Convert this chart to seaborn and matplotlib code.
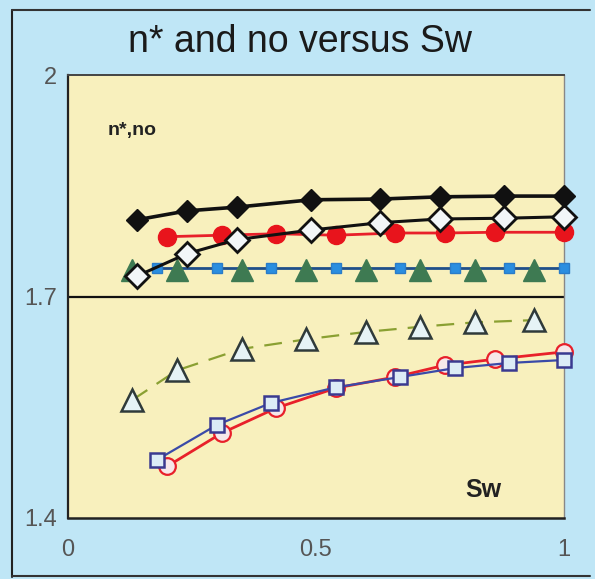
import matplotlib
matplotlib.use("Agg")
import matplotlib.pyplot as plt
from matplotlib.lines import Line2D
import seaborn as sns

# ---- data ----
sw_black = [0.14, 0.24, 0.34, 0.49, 0.63, 0.75, 0.88, 1.0]
n_black = [1.804, 1.816, 1.821, 1.831, 1.832, 1.835, 1.836, 1.836]
no_black = [1.728, 1.758, 1.777, 1.790, 1.800, 1.805, 1.806, 1.808]

sw_red = [0.20, 0.31, 0.42, 0.54, 0.66, 0.76, 0.86, 1.0]
n_red = [1.781, 1.783, 1.785, 1.783, 1.786, 1.786, 1.787, 1.787]
no_red = [1.470, 1.515, 1.549, 1.576, 1.591, 1.607, 1.615, 1.625]

sw_blue = [0.18, 0.30, 0.41, 0.54, 0.67, 0.78, 0.89, 1.0]
n_blue = [1.739, 1.739, 1.739, 1.739, 1.739, 1.739, 1.739, 1.739]
no_blue = [1.479, 1.526, 1.556, 1.577, 1.591, 1.603, 1.610, 1.614]

sw_green = [0.13, 0.22, 0.35, 0.48, 0.60, 0.71, 0.82, 0.94]
n_green = [1.736, 1.736, 1.736, 1.736, 1.736, 1.736, 1.736, 1.736]
no_green = [1.560, 1.600, 1.629, 1.642, 1.652, 1.659, 1.665, 1.668]

x_ticks = [0, 0.5, 1]
x_labels = ["0", "0.5", "1"]
y_ticks = [1.4, 1.7, 2.0]
y_labels = ["1.4", "1.7", "2"]

sns.set_style("white")
plt.rcParams["font.family"] = ["Liberation Sans", "DejaVu Sans"]

fig = plt.figure(figsize=(5.95, 5.79), dpi=100, facecolor="#bfe6f6")
ax = fig.add_axes([68 / 595, 61 / 579, 496 / 595, 443 / 579])
ax.set_facecolor("#f8f0bd")

common = dict(ax=ax, sort=False, estimator=None, legend=False, clip_on=False)

# lower curves (no)
sns.lineplot(x=sw_green, y=no_green, color="#8aa032", lw=1.6, linestyle=(0, (8, 5)),
             marker="^", markersize=16, markerfacecolor="#e6f3f6",
             markeredgecolor="#2f3a3a", markeredgewidth=1.8, zorder=3, **common)
sns.lineplot(x=sw_red, y=no_red, color="#e8202a", lw=2.0,
             marker="o", markersize=12, markerfacecolor="#f6e8ea",
             markeredgecolor="#e8202a", markeredgewidth=1.6, zorder=3, **common)
sns.lineplot(x=sw_blue, y=no_blue, color="#3a4aa8", lw=1.6,
             marker="s", markersize=10, markerfacecolor="#dcecf6",
             markeredgecolor="#3a3a90", markeredgewidth=1.8, zorder=4, **common)

# upper curves (n*)
sns.lineplot(x=sw_blue, y=n_blue, color="#1f4f8a", lw=2.0,
             marker="s", markersize=7, markerfacecolor="#2a8ee0",
             markeredgecolor="#2a7cc8", markeredgewidth=1.0, zorder=3, **common)
sns.lineplot(x=sw_green, y=n_green, color="#3e7a52", lw=0,
             marker="^", markersize=16, markerfacecolor="#3e7a52",
             markeredgecolor="#3e7a52", markeredgewidth=1.0, zorder=4, **common)
sns.lineplot(x=sw_red, y=n_red, color="#e8202a", lw=2.0,
             marker="o", markersize=13, markerfacecolor="#e8141c",
             markeredgecolor="#e8141c", markeredgewidth=1.0, zorder=4, **common)
sns.lineplot(x=sw_black, y=no_black, color="#111111", lw=2.2,
             marker="D", markersize=12, markerfacecolor="#f2f6f8",
             markeredgecolor="#111111", markeredgewidth=2.0, zorder=5, **common)
sns.lineplot(x=sw_black, y=n_black, color="#111111", lw=2.6,
             marker="D", markersize=11, markerfacecolor="#111111",
             markeredgecolor="#111111", markeredgewidth=1.0, zorder=6, **common)

ax.axhline(1.7, color="#111111", lw=1.6, zorder=2)

ax.set_xlim(0, 1)
ax.set_ylim(1.4, 2.0)
ax.set_xticks(x_ticks)
ax.set_xticklabels(x_labels)
ax.set_yticks(y_ticks)
ax.set_yticklabels(y_labels)
ax.tick_params(axis="both", direction="out", length=5, width=1.3, color="#222222",
               labelsize=17, labelcolor="#555555", pad=4)
ax.tick_params(axis="x", pad=10)
ax.tick_params(axis="y", pad=3)
ax.set_xlabel("")
ax.set_ylabel("")

for side, col, lw in [("left", "#222222", 1.6), ("bottom", "#222222", 1.8),
                      ("top", "#444444", 1.4), ("right", "#888888", 1.0)]:
    ax.spines[side].set_visible(True)
    ax.spines[side].set_color(col)
    ax.spines[side].set_linewidth(lw)

ax.text(0.079, 0.874, "n*,no", transform=ax.transAxes, fontsize=14,
        fontweight="bold", color="#222222", va="center", ha="left")
ax.text(0.80, 0.063, "Sw", transform=ax.transAxes, fontsize=18,
        fontweight="bold", color="#222222", va="center", ha="left")

fig.text(0.505, 0.927, "n* and no versus Sw", fontsize=27, color="#1a1a1a",
         ha="center", va="center")

# figure frame lines
fig.add_artist(Line2D([12 / 595, 12 / 595], [2 / 579, 1 - 10 / 579],
                      color="#222222", lw=1.5, transform=fig.transFigure))
fig.add_artist(Line2D([12 / 595, 590 / 595], [1 - 10 / 579, 1 - 10 / 579],
                      color="#333333", lw=1.5, transform=fig.transFigure))
fig.add_artist(Line2D([12 / 595, 590 / 595], [3 / 579, 3 / 579],
                      color="#333333", lw=1.5, transform=fig.transFigure))

fig.savefig("out.png", dpi=100, facecolor=fig.get_facecolor())
